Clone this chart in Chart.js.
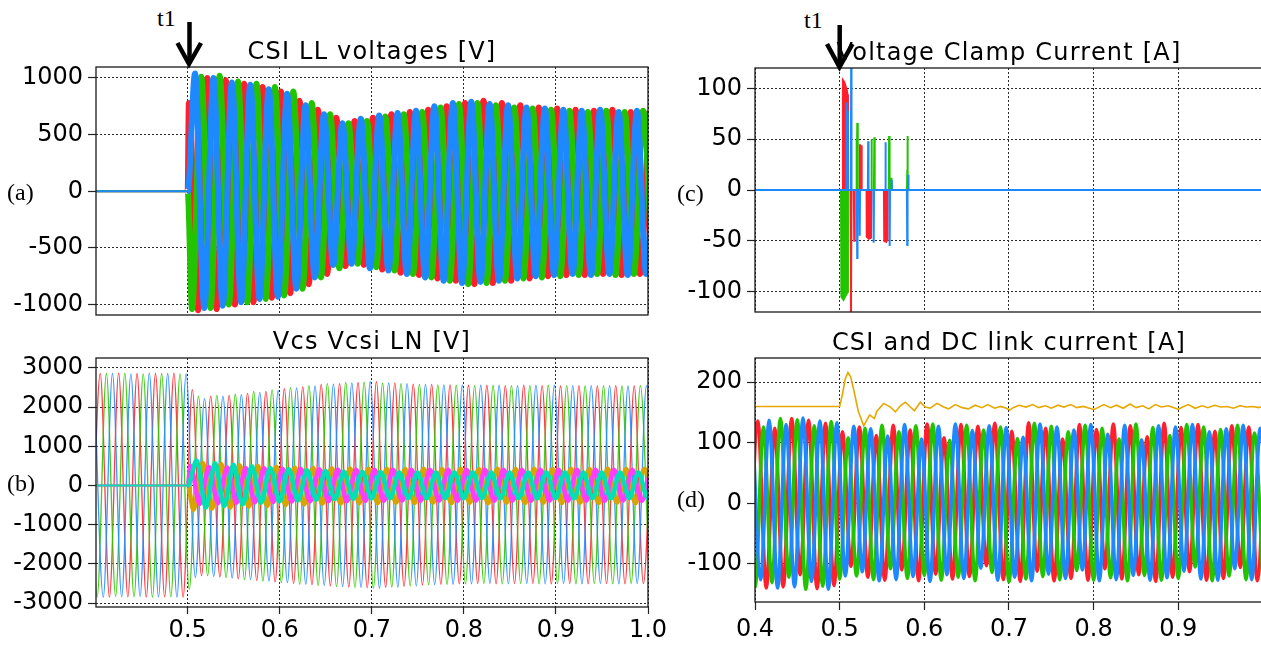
<!DOCTYPE html>
<html><head><meta charset="utf-8">
<script src="https://cdn.jsdelivr.net/npm/chart.js@4.4.1/dist/chart.umd.min.js"></script>
<style>
html,body{margin:0;padding:0;width:1261px;height:648px;overflow:hidden;background:#fff;}
.cv{position:absolute;}
.title{position:absolute;font-family:"DejaVu Sans";font-size:24px;line-height:24px;letter-spacing:1.2px;white-space:nowrap;transform:translateX(-50%);color:#000;}
.lab{position:absolute;font-family:"Liberation Serif";font-size:24px;line-height:24px;white-space:nowrap;color:#000;}
svg{position:absolute;left:0;top:0;}
</style></head><body>
<canvas id="ca" class="cv"></canvas>
<canvas id="cb" class="cv"></canvas>
<canvas id="cc" class="cv"></canvas>
<canvas id="cd" class="cv"></canvas>
<div class="title" style="left:372px;top:39px">CSI LL voltages [V]</div>
<div class="title" style="left:372px;top:329px">Vcs Vcsi LN [V]</div>
<div class="title" style="left:1009px;top:40px">Voltage Clamp Current [A]</div>
<div class="title" style="left:1009px;top:330px">CSI and DC link current [A]</div>
<div class="lab" style="left:7px;top:180px">(a)</div>
<div class="lab" style="left:7px;top:471px">(b)</div>
<div class="lab" style="left:677px;top:181px">(c)</div>
<div class="lab" style="left:677px;top:487px">(d)</div>
<div class="lab" style="left:157px;top:6px">t1</div>
<div class="lab" style="left:804px;top:8px">t1</div>
<svg width="1261" height="648">
 <g stroke="#000" stroke-width="4.5" fill="none">
  <line x1="189.5" y1="22" x2="189.5" y2="62"/>
  <polyline points="177.5,43 189,64 201,43"/>
  <line x1="839.7" y1="25" x2="839.7" y2="65"/>
  <polyline points="827,44 839.5,67 852.5,44"/>
 </g>
</svg>
<script>
// ---------------- data ----------------
const HALF = 0.01; // half period of the 50 Hz fundamental [s]
const T1 = 0.5;    // event time t1 [s]

// tick labels
const xTicksAB = [0.5, 0.6, 0.7, 0.8, 0.9, 1.0];
const xTicksCD = [0.4, 0.5, 0.6, 0.7, 0.8, 0.9];
const yTicksA = [-1000, -500, 0, 500, 1000];
const yTicksB = [-3000, -2000, -1000, 0, 1000, 2000, 3000];
const yTicksC = [-100, -50, 0, 50, 100];
const yTicksD = [-100, 0, 100, 200];

// (a) CSI line-line voltages: successive extrema (half-cycle peaks) after t1
const llRedStart = 0.5013, llGreenStart = 0.5047, llBlueStart = 0.508;
const llRed = [780, -1050, 1000, -1040, 980, -1000, 950, -980, 920, -940,
  880, -900, 800, -820, 720, -730, 650, -660, 620, -650,
  650, -690, 680, -720, 700, -740, 720, -770, 750, -790,
  780, -820, 800, -810, 780, -790, 760, -770, 740, -750,
  730, -740, 720, -740, 710, -730, 720, -740, 700, -730, 710];
const llGreen = [-1040, 1010, -1030, 1020, -1000, 970, -980, 950, -950, 920,
  -920, 880, -860, 780, -760, 680, -680, 600, -640, 620,
  -670, 660, -700, 680, -730, 700, -760, 740, -790, 770,
  -820, 780, -810, 760, -790, 740, -770, 730, -760, 720,
  -750, 710, -740, 700, -730, 710, -740, 700, -730, 710, -740];
const llBlue = [1040, -1030, 1000, -1010, 960, -980, 940, -950, 900, -930,
  860, -860, 760, -760, 680, -650, 600, -640, 640, -680,
  670, -700, 690, -730, 710, -760, 750, -790, 780, -810,
  790, -800, 770, -790, 760, -770, 740, -750, 730, -740,
  720, -730, 710, -740, 720, -730, 700, -740, 710, -730, 720];

// (b) Vcs (large) and Vcsi (small) line-neutral voltages: successive extrema
const vcsRedStart = 0.395, vcsGreenStart = 0.3917, vcsBlueStart = 0.3983;
const vcsRed = [-2840, 2860, -2850, 2870, -2840, 2860, -2850, 2860, -2840, 2870, -2850,
  2450, -2300, 2280, -2330, 2300, -2380, 2350, -2420, 2400, -2460,
  2470, -2500, 2520, -2530, 2580, -2560, 2600, -2590, 2630, -2610,
  2650, -2600, 2620, -2570, 2590, -2540, 2580, -2520, 2570, -2510,
  2560, -2500, 2560, -2510, 2550, -2500, 2560, -2500, 2550, -2510,
  2540, -2500, 2550, -2510, 2540, -2500, 2550, -2510, 2540, -2500, 2550];
const vcsGreen = [2850, -2840, 2860, -2830, 2870, -2840, 2850, -2850, 2860, -2840, 2850,
  -2650, 2280, -2300, 2300, -2350, 2330, -2400, 2400, -2440, 2440,
  -2480, 2500, -2520, 2550, -2550, 2600, -2580, 2630, -2600, 2640,
  -2620, 2610, -2590, 2600, -2560, 2580, -2530, 2570, -2520, 2560,
  -2510, 2550, -2500, 2560, -2510, 2550, -2500, 2550, -2510, 2560,
  -2500, 2550, -2510, 2540, -2500, 2550, -2510, 2540, -2500, 2550, -2510];
const vcsBlue = [2840, -2850, 2860, -2840, 2850, -2830, 2870, -2840, 2860, -2850, 2850,
  -2350, 2220, -2320, 2280, -2360, 2320, -2400, 2380, -2440, 2430,
  -2480, 2490, -2520, 2540, -2550, 2590, -2580, 2620, -2600, 2660,
  -2620, 2620, -2590, 2600, -2560, 2580, -2530, 2570, -2520, 2570,
  -2510, 2560, -2500, 2560, -2510, 2550, -2500, 2560, -2510, 2560,
  -2500, 2550, -2510, 2550, -2500, 2550, -2510, 2540, -2500, 2550, -2510];
const vcsiMagentaStart = 0.503, vcsiOrangeStart = 0.5063, vcsiTealStart = 0.5097;
const vcsiMagenta = [500, -470, 470, -450, 460, -440, 450, -430, 440, -420,
  430, -410, 420, -400, 415, -400, 410, -395, 405, -390,
  405, -390, 400, -385, 405, -390, 400, -385, 400, -390,
  405, -385, 400, -390, 400, -385, 405, -390, 400, -385,
  400, -390, 405, -385, 400, -390, 400, -385, 405, -390, 400];
const vcsiOrange = [-620, 580, -590, 550, -560, 520, -540, 500, -520, 480,
  -500, 460, -480, 450, -465, 440, -455, 435, -450, 430,
  -445, 430, -440, 425, -445, 430, -440, 425, -445, 430,
  -440, 425, -445, 430, -440, 425, -445, 430, -440, 425,
  -445, 430, -440, 425, -445, 430, -440, 425, -445, 430, -440];
const vcsiTeal = [640, -560, 570, -520, 530, -480, 490, -440, 450, -410,
  420, -380, 390, -360, 370, -345, 355, -335, 345, -330,
  340, -325, 335, -320, 335, -325, 330, -320, 335, -325,
  330, -320, 335, -325, 330, -320, 335, -325, 330, -320,
  335, -325, 330, -320, 335, -325, 330, -320, 335, -325, 330];

// (c) voltage clamp current: [time, value] samples
const clampRed = [[0.4,0],[0.5035,0],[0.5039,108],[0.5055,106],[0.507,102],[0.5085,98],[0.5092,94],[0.5098,0],
  [0.5128,0],[0.5134,-120],[0.514,0],[0.5168,0],[0.5172,-50],[0.5178,0],
  [0.5236,0],[0.524,45],[0.5246,0],[0.525,0],[0.5254,44],[0.526,0],
  [0.5318,0],[0.532,-46],[0.5345,-48],[0.537,-47],[0.5374,0],
  [0.5523,0],[0.5527,-50],[0.555,-51],[0.5562,-49],[0.5566,0],[1.0,0]];
const clampGreen = [[0.4,0],[0.5016,0],[0.502,-105],[0.5045,-108],[0.507,-104],[0.5095,-100],[0.5098,0],
  [0.5195,0],[0.5198,50],[0.5204,0],[0.5208,66],[0.5214,0],
  [0.5372,0],[0.5376,50],[0.538,0],[0.5405,0],[0.541,52],[0.5414,0],
  [0.558,0],[0.5584,53],[0.559,0],[0.5605,0],[0.5608,12],[0.5612,0],
  [0.5795,0],[0.5799,20],[0.5801,53],[0.5805,0],[1.0,0]];
const clampBlue = [[0.4,0],[0.5075,0],[0.5079,86],[0.5085,0],[0.5091,78],[0.5097,0],
  [0.5132,0],[0.5136,125],[0.514,0],[0.5203,0],[0.5207,-67],[0.5211,0],
  [0.5233,0],[0.5237,-45],[0.5241,0],[0.5333,0],[0.5337,48],[0.5341,0],
  [0.5398,0],[0.5402,-52],[0.5406,0],[0.5537,0],[0.5541,47],[0.5545,0],
  [0.5587,0],[0.5591,-55],[0.5595,0],[0.5611,0],[0.5615,10],[0.5619,0],
  [0.5794,0],[0.5798,-54],[0.5802,0],[0.5808,0],[0.5811,15],[0.5815,0],[1.0,0]];

// (d) CSI phase currents: successive extrema; DC link current: [time, value]
const curRedStart = 0.3933, curGreenStart = 0.39, curBlueStart = 0.3967;
const curRed = [-128, 136, -140, 124, -138, 140, -118, 137, -141, 132, -136,
  118, -104, 126, -122, 112, -127, 129, -110, 121, -128,
  131, -117, 108, -125, 130, -121, 127, -103, 132, -126,
  119, -129, 133, -112, 124, -128, 106, -124, 130, -127,
  122, -108, 131, -125, 128, -118, 110, -129, 132, -122,
  125, -113, 130, -127, 119, -124, 128, -106, 126, -128, 121];
const curGreen = [134, -139, 126, -131, 140, -122, 138, -142, 128, -137, 135,
  -125, 108, -120, 124, -126, 129, -108, 118, -124, 128,
  -119, 131, -127, 104, -122, 129, -128, 121, -114, 126,
  -130, 107, -125, 132, -121, 127, -126, 118, -111, 129,
  -127, 124, -123, 106, -128, 131, -119, 125, -127, 112,
  -124, 130, -105, 126, -128, 122, -120, 129, -126, 116, -125];
const curBlue = [139, -126, 137, -140, 130, -138, 141, -129, 136, -142, 133,
  -120, 127, -113, 123, -128, 111, -126, 130, -121, 106,
  -129, 127, -118, 131, -124, 120, -107, 128, -127, 125,
  -122, 109, -128, 131, -117, 126, -124, 121, -110, 130,
  -128, 114, -126, 129, -119, 105, -127, 128, -123, 126,
  -112, 130, -125, 118, -127, 123, -108, 129, -126, 124, -121];
const dcLink = [[0.4,160],[0.5,160],[0.503,178],[0.5065,205],[0.5098,216],[0.513,209],[0.517,185],[0.522,152],
  [0.5284,128],[0.533,140],[0.5355,146],[0.538,143],[0.541,140],[0.544,152],[0.552,165],[0.56,159],
  [0.5658,151],[0.5717,161],[0.5776,167],[0.5835,159],[0.5882,153],[0.5953,167],[0.6012,159],[0.607,157],
  [0.6149,165],[0.6228,159],[0.6287,156],[0.6366,163],[0.6445,158],[0.652,156],[0.66,162],[0.668,158],
  [0.675,163],[0.683,157],[0.69,160],[0.697,157],[0.701,154],[0.705,158],[0.712,162],[0.72,159],
  [0.728,163],[0.735,158],[0.743,161],[0.75,157],[0.758,162],[0.765,159],[0.773,163],[0.78,158],
  [0.788,160],[0.795,157],[0.8,155],[0.805,158],[0.812,163],[0.82,158],[0.827,162],[0.835,157],
  [0.843,164],[0.85,158],[0.858,161],[0.865,156],[0.873,163],[0.88,159],[0.888,161],[0.895,158],
  [0.9,155],[0.905,159],[0.912,163],[0.92,157],[0.928,161],[0.935,158],[0.943,162],[0.95,159],
  [0.958,160],[0.965,157],[0.973,161],[0.98,159],[0.988,160],[0.995,158],[1.0,160]];

// ---------------- helpers ----------------
const ZERO_LEAD = [[0.39, 0], [T1, 0]];
function wave(t0, vals, lead) {
  const pts = (lead || []).map(([x, y]) => ({x, y}));
  vals.forEach((v, i) => pts.push({x: t0 + i * HALF, y: v}));
  return pts;
}
function pairs(arr) { return arr.map(([x, y]) => ({x, y})); }
function ds(data, color, w, extra) {
  return Object.assign({data, borderColor: color, backgroundColor: color, borderWidth: w,
    pointRadius: 0, cubicInterpolationMode: 'monotone', fill: false}, extra || {});
}
// thinner stroke on the flat pre-t1 segment
function thinBefore(wPre, wPost) {
  return {segment: {borderWidth: c => (c.p1.parsed.x <= T1 ? wPre : wPost)}};
}
const RED = '#ff1f2d', GREEN = '#22c400', BLUE = '#1e88ff';

const frame = {id: 'frame', afterDraw(c) {
  const a = c.chartArea, x = c.ctx;
  x.save(); x.strokeStyle = '#1a1a1a'; x.lineWidth = 1.3;
  x.strokeRect(a.left, a.top, a.right - a.left, a.bottom - a.top); x.restore();
}};

function build(id, o) {
  const cv = document.getElementById(id);
  cv.width = o.box.w; cv.height = o.box.h;
  cv.style.left = o.box.x + 'px'; cv.style.top = o.box.y + 'px';
  const yW = o.area.l - o.box.x, xH = o.box.y + o.box.h - o.area.b;
  const font = {family: 'DejaVu Sans', size: 24};
  new Chart(cv, {
    type: 'line',
    data: {datasets: o.datasets},
    options: {
      responsive: false, animation: false, events: [],
      layout: {padding: {left: 0, bottom: 0, top: o.area.t - o.box.y, right: o.box.x + o.box.w - o.area.r}},
      plugins: {legend: {display: false}, tooltip: {enabled: false}},
      scales: {
        x: {type: 'linear', min: o.xMin, max: o.xMax, z: 1,
          afterBuildTicks: s => { s.ticks = o.xTicks.map(v => ({value: v})); },
          afterFit: s => { s.height = xH; },
          ticks: {display: o.showX, autoSkip: false, maxRotation: 0, padding: o.xPad || 2, font, color: '#000',
            callback: v => Number(v).toFixed(1)},
          grid: {color: '#2a2a2a', lineWidth: 1, drawTicks: o.showX, tickLength: o.xTick || 7, tickColor: '#222', tickWidth: 1.2},
          border: {display: false, dash: [2, 2]}},
        y: {type: 'linear', min: o.yMin, max: o.yMax, z: 1,
          afterBuildTicks: s => { s.ticks = o.yTicks.map(v => ({value: v})); },
          afterFit: s => { s.width = yW; },
          ticks: {padding: 5, font, color: '#000', callback: v => String(v)},
          grid: {color: '#2a2a2a', lineWidth: 1, drawTicks: true, tickLength: 8, tickColor: '#222', tickWidth: 1.2},
          border: {display: false, dash: [2, 2]}}
      }
    },
    plugins: [frame]
  });
}

// (a)
build('ca', {box: {x: 0, y: 37, w: 688, h: 308}, area: {l: 96, t: 67, r: 648, b: 315},
  xMin: 0.4004, xMax: 1.0, yMin: -1092, yMax: 1097, xTicks: xTicksAB, yTicks: yTicksA, showX: false,
  datasets: [
    ds(wave(llBlueStart, llBlue, ZERO_LEAD), BLUE, 6, thinBefore(2, 6)),
    ds(wave(llGreenStart, llGreen, ZERO_LEAD), GREEN, 6, thinBefore(2, 6)),
    ds(wave(llRedStart, llRed, ZERO_LEAD), RED, 6, thinBefore(2, 6))
  ]});

// (b)
build('cb', {box: {x: 0, y: 328, w: 688, h: 320}, area: {l: 96, t: 358, r: 648, b: 607},
  xMin: 0.4004, xMax: 1.0, yMin: -3100, yMax: 3255, xTicks: xTicksAB, yTicks: yTicksB, showX: true, xTick: 7, xPad: 2,
  datasets: [
    ds(wave(vcsiTealStart, vcsiTeal, ZERO_LEAD), '#00e0b4', 4.5, thinBefore(2, 4.5)),
    ds(wave(vcsiMagentaStart, vcsiMagenta, ZERO_LEAD), '#ff3cff', 4.5, thinBefore(2, 4.5)),
    ds(wave(vcsiOrangeStart, vcsiOrange, ZERO_LEAD), '#d8a400', 4.5, thinBefore(2, 4.5)),
    ds(wave(vcsBlueStart, vcsBlue), 'rgba(40,140,255,0.9)', 1.3),
    ds(wave(vcsGreenStart, vcsGreen), 'rgba(50,200,0,0.9)', 1.3),
    ds(wave(vcsRedStart, vcsRed), 'rgba(255,40,50,0.9)', 1.3)
  ]});

// (c)
build('cc', {box: {x: 680, y: 38, w: 622, h: 304}, area: {l: 755, t: 68, r: 1262, b: 312},
  xMin: 0.4, xMax: 0.9989, yMin: -120, yMax: 120, xTicks: xTicksCD, yTicks: yTicksC, showX: false,
  datasets: [
    ds(pairs(clampBlue), BLUE, 2, {cubicInterpolationMode: 'default', tension: 0, fill: 'origin'}),
    ds(pairs(clampGreen), GREEN, 2, {cubicInterpolationMode: 'default', tension: 0, fill: 'origin'}),
    ds(pairs(clampRed), RED, 2, {cubicInterpolationMode: 'default', tension: 0, fill: 'origin'})
  ]});

// (d)
build('cd', {box: {x: 680, y: 328, w: 622, h: 320}, area: {l: 755, t: 358, r: 1262, b: 602},
  xMin: 0.4, xMax: 0.9989, yMin: -163, yMax: 240, xTicks: xTicksCD, yTicks: yTicksD, showX: true, xTick: 8, xPad: 5,
  datasets: [
    ds(pairs(dcLink), '#e6a800', 1.6, {cubicInterpolationMode: 'default', tension: 0}),
    ds(wave(curBlueStart, curBlue), BLUE, 3.6),
    ds(wave(curGreenStart, curGreen), GREEN, 3.6),
    ds(wave(curRedStart, curRed), RED, 3.6)
  ]});
</script>
</body></html>
